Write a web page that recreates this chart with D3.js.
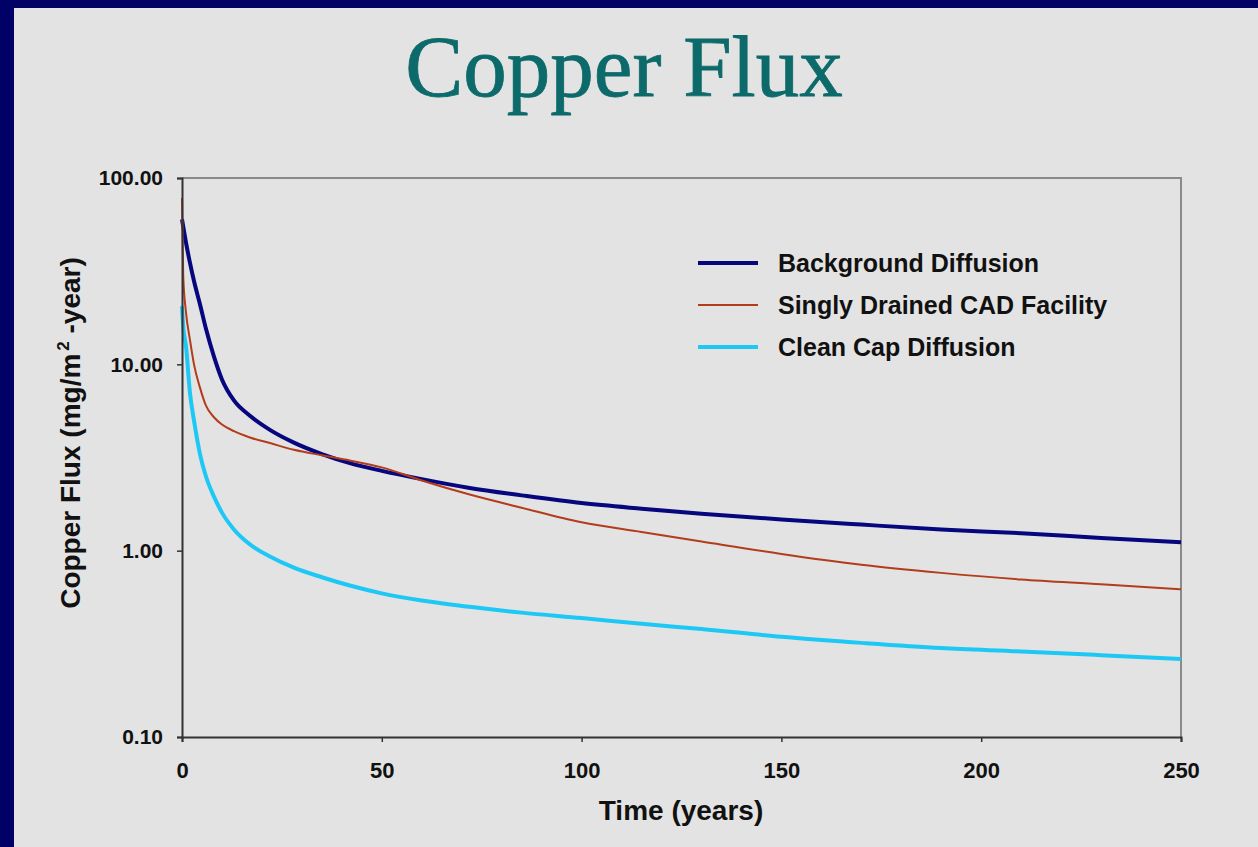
<!DOCTYPE html>
<html>
<head>
<meta charset="utf-8">
<script src="https://cdn.jsdelivr.net/npm/d3@7"></script>
<style>
  html, body { margin: 0; padding: 0; background: #000066; }
  svg { display: block; }
</style>
</head>
<body>
<svg class="flux" width="1258" height="847"></svg>
<script>
// values (years, mg/m2-year)
var timeYears = [0, 0.3, 1, 2, 3, 4.5, 6, 8, 10, 13, 17, 22, 28, 35, 42, 50, 60, 72, 85, 100, 115, 130, 150, 170, 190, 210, 230, 250];
var backgroundDiffusion = [60, 55, 45, 35, 28, 21, 15.5, 11, 8.3, 6.4, 5.3, 4.45, 3.8, 3.3, 2.95, 2.68, 2.42, 2.17, 1.98, 1.80, 1.68, 1.58, 1.47, 1.38, 1.30, 1.24, 1.17, 1.11];
var singlyDrainedCad = [78, 30, 19, 13.5, 10, 7.5, 6.0, 5.2, 4.75, 4.38, 4.05, 3.78, 3.48, 3.25, 3.05, 2.8, 2.38, 2.0, 1.70, 1.42, 1.26, 1.12, 0.96, 0.84, 0.76, 0.70, 0.66, 0.62];
var cleanCapDiffusion = [20.5, 16, 12.5, 7, 5.0, 3.3, 2.5, 1.95, 1.6, 1.3, 1.08, 0.93, 0.81, 0.72, 0.65, 0.59, 0.54, 0.50, 0.465, 0.435, 0.405, 0.38, 0.345, 0.32, 0.30, 0.288, 0.275, 0.262];

var seriesNames = ["Background Diffusion", "Singly Drained CAD Facility", "Clean Cap Diffusion"];
var seriesColours = ["#06067e", "#b23c1c", "#1ec8f5"];
var seriesWidths = [4, 2, 4];
var yTicks = [0.1, 1, 10, 100];
var xTicks = [0, 50, 100, 150, 200, 250];

(function () {
  var svg = d3.select(".flux");
  var width = 1258, height = 847;
  var plot = {left: 182, right: 1181, top: 178, bottom: 737};

  svg.append("rect")
    .attr("x", 14).attr("y", 8)
    .attr("width", width - 14).attr("height", height - 8)
    .attr("fill", "#e3e3e3");

  svg.append("text")
    .attr("x", 624).attr("y", 96)
    .attr("text-anchor", "middle")
    .style("font-family", "'Liberation Serif', 'Times New Roman', serif")
    .style("font-size", "87px")
    .attr("fill", "#0c6a6a")
    .attr("stroke", "#0c6a6a")
    .attr("stroke-width", 0.8)
    .text("Copper Flux");

  var xscale = d3.scaleLinear()
    .domain([0, 250])
    .range([plot.left, plot.right]);

  var yscale = d3.scaleLog()
    .domain([0.1, 100])
    .range([plot.bottom, plot.top]);

  // plot frame (top and right edges)
  svg.append("path")
    .attr("d", "M" + plot.left + "," + plot.top + "H" + plot.right + "V" + plot.bottom)
    .attr("fill", "none")
    .attr("stroke", "#8a8a8a")
    .attr("stroke-width", 2);

  var series = [backgroundDiffusion, singlyDrainedCad, cleanCapDiffusion];
  var line = d3.line()
    .x(function(d, i) { return xscale(timeYears[i]); })
    .y(function(d) { return yscale(d); })
    .curve(d3.curveMonotoneX);

  svg.append("g").selectAll("path")
    .data(series)
    .enter().append("path")
      .attr("d", function(d) { return line(d); })
      .attr("fill", "none")
      .attr("stroke", function(d, i) { return seriesColours[i]; })
      .attr("stroke-width", function(d, i) { return seriesWidths[i]; })
      .attr("stroke-linejoin", "round");

  var yaxis = d3.axisLeft(yscale)
    .tickValues(yTicks)
    .tickFormat(d3.format(".2f"))
    .tickSize(5)
    .tickPadding(14);
  var gy = svg.append("g")
    .attr("transform", "translate(" + plot.left + ",0)")
    .call(yaxis);

  var xaxis = d3.axisBottom(xscale)
    .tickValues(xTicks)
    .tickFormat(d3.format("d"))
    .tickSize(5)
    .tickPadding(20);
  var gx = svg.append("g")
    .attr("transform", "translate(0," + plot.bottom + ")")
    .call(xaxis);

  [gx, gy].forEach(function(g) {
    g.select(".domain").attr("stroke", "#333").attr("stroke-width", 2);
    g.selectAll(".tick line").attr("stroke", "#333").attr("stroke-width", 1.5);
    g.selectAll("text")
      .attr("fill", "#111")
      .style("font-family", "'Liberation Sans', Arial, sans-serif")
      .style("font-weight", "bold");
  });
  gy.selectAll("text").style("font-size", "21px");
  gx.selectAll("text").style("font-size", "22px");

  svg.append("text")
    .attr("x", 681).attr("y", 820)
    .attr("text-anchor", "middle")
    .style("font-family", "'Liberation Sans', Arial, sans-serif")
    .style("font-weight", "bold")
    .style("font-size", "28px")
    .attr("fill", "#111")
    .text("Time (years)");

  var ytitle = svg.append("text")
    .attr("transform", "translate(80,433) rotate(-90)")
    .attr("text-anchor", "middle")
    .style("font-family", "'Liberation Sans', Arial, sans-serif")
    .style("font-weight", "bold")
    .style("font-size", "28px")
    .attr("fill", "#111");
  ytitle.append("tspan").text("Copper Flux (mg/m");
  ytitle.append("tspan").attr("dx", 3).attr("dy", -11).style("font-size", "17px").text("2");
  ytitle.append("tspan").attr("dy", 11).text(" -year)");

  var legend = svg.append("g").selectAll("g")
    .data(seriesNames)
    .enter().append("g")
      .attr("transform", function(d, i) { return "translate(698," + (263 + i * 42) + ")"; });
  legend.append("line")
    .attr("x1", 0).attr("x2", 60)
    .attr("stroke", function(d, i) { return seriesColours[i]; })
    .attr("stroke-width", function(d, i) { return seriesWidths[i]; });
  legend.append("text")
    .attr("x", 80).attr("y", 9)
    .style("font-family", "'Liberation Sans', Arial, sans-serif")
    .style("font-weight", "bold")
    .style("font-size", "25px")
    .attr("fill", "#111")
    .text(function(d) { return d; });
})();
</script>
</body>
</html>
